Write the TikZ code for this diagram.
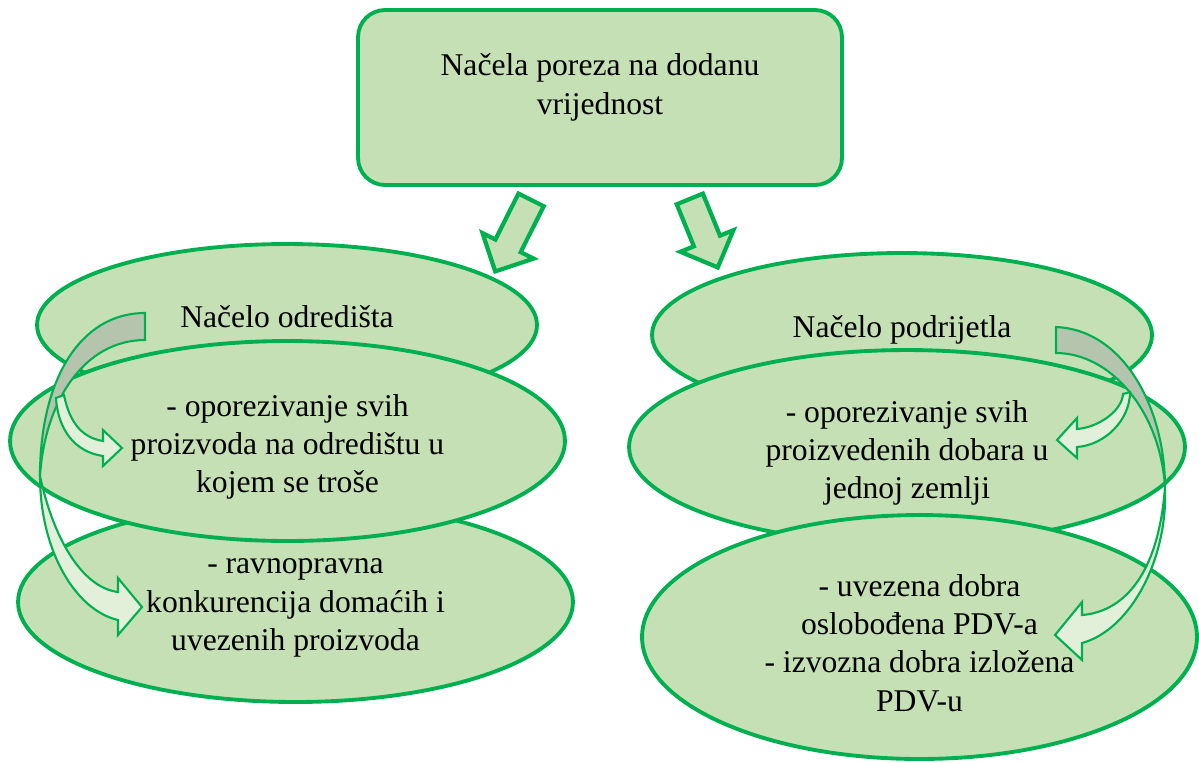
\documentclass[tikz,border=0pt]{standalone}
\usepackage{fontspec}
\setmainfont{Liberation Serif}
\usepackage{tikz}
\usetikzlibrary{shapes.geometric, shapes.arrows, calc}

\definecolor{okvir}{HTML}{00B050}
\definecolor{ispuna}{HTML}{C5E0B4}
\definecolor{svijetla}{HTML}{E2F0D9}
\definecolor{siva}{RGB}{181,196,173}

\tikzset{
  blob/.style={ellipse, draw=okvir, fill=ispuna, line width=2.2pt, inner sep=0pt},
  txt/.style={align=center, font=\fontsize{18}{21.8}\selectfont, inner sep=0pt},
  blokstr/.style={single arrow, draw=okvir, fill=ispuna, line width=2.4pt, inner xsep=0pt,
    inner ysep=0.24cm, single arrow head extend=0.29cm, anchor=tail},
  zavoj/.style={draw=okvir, line width=1.2pt, fill=svijetla, line join=miter},
}

\begin{document}
\begin{tikzpicture}[x=0.02cm, y=-0.02cm]
	\useasboundingbox (0,0) rectangle (1199,762);

	% naslovni okvir
	\node[draw=okvir, fill=ispuna, line width=2.2pt, rounded corners=0.54cm,
	      minimum width=9.68cm, minimum height=3.5cm] (vrh) at (600,97.5) {};
	\node[txt] (vrht) at ([yshift=0.2cm]vrh.center) {Načela poreza na dodanu\\vrijednost};

	% blok strelice
	\node[blokstr, rotate=243.4, minimum height=1.6cm] (s1) at (532,198) {};
	\node[blokstr, rotate=292.2, minimum height=1.48cm] (s2) at (689,197) {};

	% lijevi stupac
	\node[blob, minimum width=10cm, minimum height=3.24cm] (e1) at (287,325) {};
	\node[txt] (e1t) at ([yshift=0.16cm]e1.center) {Načelo odredišta};
	\node[blob, minimum width=11.1cm, minimum height=4cm] (e3) at (295.5,602) {};
	\node[txt] (e3t) at ([yshift=-0.12cm]e3.center) {- ravnopravna\\konkurencija domaćih i\\uvezenih proizvoda};
	\node[blob, minimum width=11.1cm, minimum height=4cm] (e2) at (287.5,441) {};
	\node[txt] (e2t) at ([yshift=-0.12cm]e2.center) {- oporezivanje svih\\proizvoda na odredištu u\\kojem se troše};

	% desni stupac
	\node[blob, minimum width=10cm, minimum height=3.28cm] (f1) at (902,335) {};
	\node[txt] (f1t) at ([yshift=0.1cm]f1.center) {Načelo podrijetla};
	\node[blob, minimum width=11.12cm, minimum height=3.88cm] (f2) at (907,447) {};
	\node[txt] (f2t) at ([yshift=-0.12cm]f2.center) {- oporezivanje svih\\proizvedenih dobara u\\jednoj zemlji};
	\node[blob, minimum width=11.1cm, minimum height=4.88cm] (f3) at (919.5,637) {};
	\node[txt] (f3t) at ([yshift=-0.12cm]f3.center) {- uvezena dobra\\oslobođena PDV-a\\- izvozna dobra izložena\\PDV-u};

	% zakrivljene strelice lijevo
	\coordinate (L1) at (145,313);
	\coordinate (L2) at (145,340);
	\coordinate (LT) at (40,476);
	\filldraw[zavoj, fill=siva] (L1) .. controls (80,313) and (40,380) .. (LT)
		.. controls (45,400) and (85,340) .. (L2) -- cycle;
	\filldraw[zavoj] (LT) .. controls (40,550) and (75,610) .. (118,620) -- (118,635) -- (142,607)
		-- (118,578) -- (118,592) .. controls (85,588) and (55,545) .. (LT) -- cycle;
	\filldraw[zavoj] (56,398) .. controls (58,430) and (75,452) .. (103,456) -- (103,466) -- (122,448)
		-- (103,430) -- (103,441) .. controls (84,438) and (70,425) .. (64,395) -- cycle;

	% zakrivljene strelice desno
	\coordinate (D1) at (1056,327);
	\coordinate (D2) at (1056,353);
	\coordinate (DT) at (1165,487);
	\filldraw[zavoj, fill=siva] (D1) .. controls (1125,330) and (1165,410) .. (DT)
		.. controls (1160,410) and (1110,353) .. (D2) -- cycle;
	\filldraw[zavoj] (DT) .. controls (1168,560) and (1130,630) .. (1082,643) -- (1082,660) -- (1055,635)
		-- (1082,602) -- (1082,615) .. controls (1120,612) and (1158,580) .. (DT) -- cycle;
	\filldraw[zavoj] (1130,392) .. controls (1130,420) and (1105,445) .. (1077,447) -- (1077,458) -- (1057,440)
		-- (1077,418) -- (1077,429) .. controls (1100,427) and (1122,410) .. (1123,394) -- cycle;

\end{tikzpicture}
\end{document}
